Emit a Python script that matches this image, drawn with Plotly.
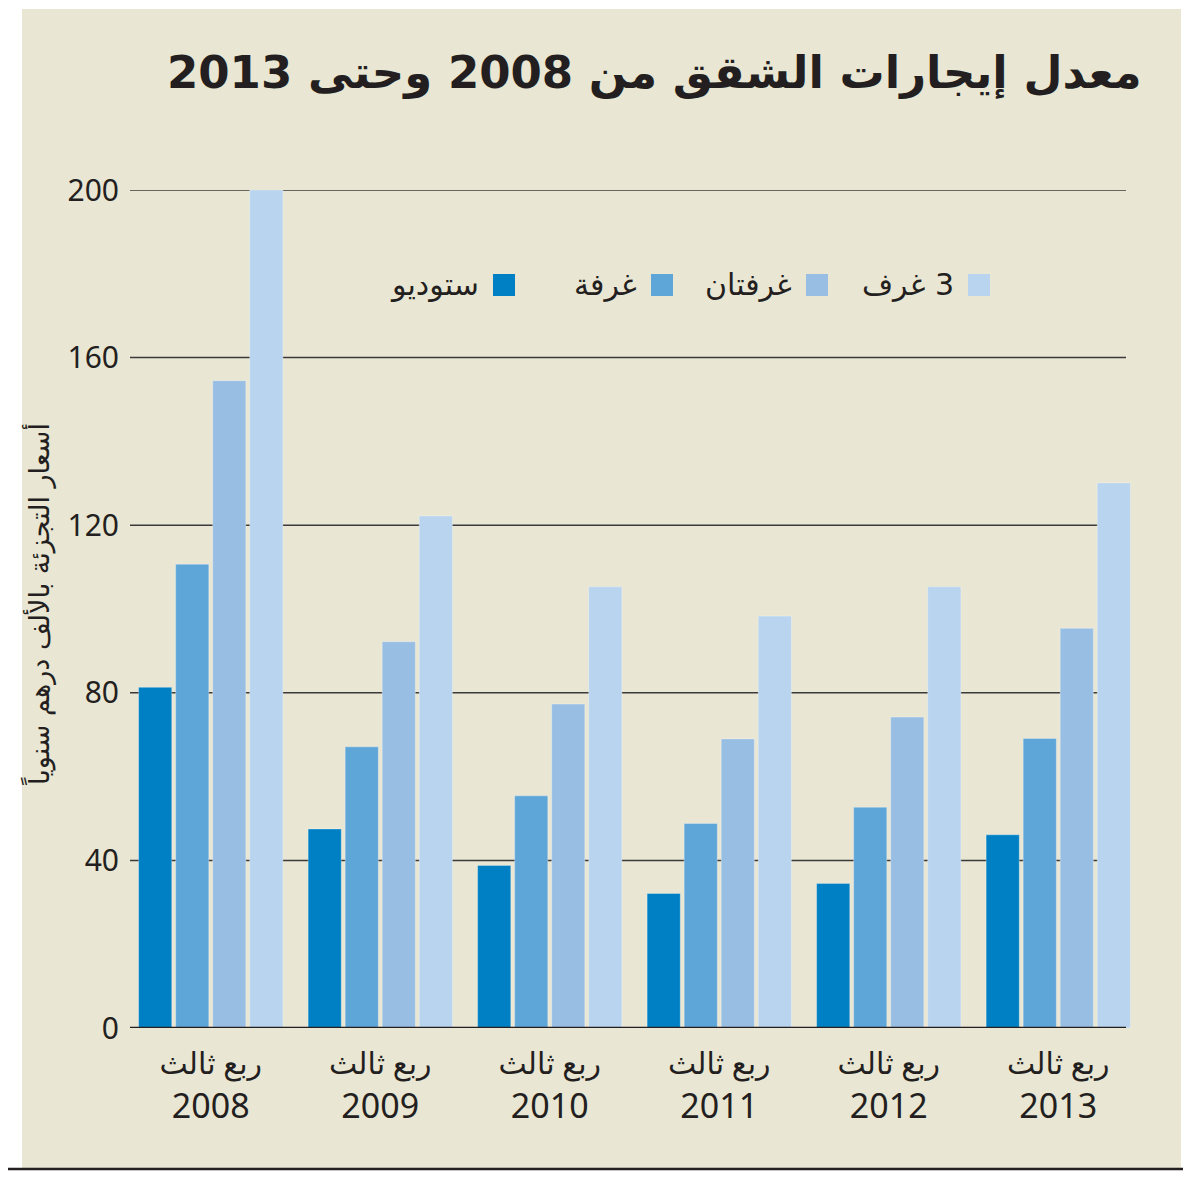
import plotly.graph_objects as go

# data (thousand AED per year, Q3 of each year)
years = ['2008', '2009', '2010', '2011', '2012', '2013']
quarter_label = 'ربع ثالث'
series_names = ['ستوديو', 'غرفة', 'غرفتان', '\u200f3 غرف']
studio = [81.3, 47.5, 38.8, 32.1, 34.5, 46.1]
one_room = [110.7, 67.1, 55.4, 48.8, 52.7, 69.1]
two_rooms = [154.5, 92.2, 77.3, 69.0, 74.2, 95.4]
three_rooms = [200, 122.2, 105.3, 98.3, 105.3, 130.1]
y_ticks = [0, 40, 80, 120, 160, 200]

title_text = '\u200fمعدل إيجارات الشقق من 2008 وحتى 2013'
y_title = 'أسعار التجزئة بالألف درهم سنوياً'

colors = ['#0080c4', '#5fa6d8', '#98bfe3', '#b8d4ee']
ink = '#231f20'
beige = '#e9e6d3'
font_fam = 'Noto Sans, DejaVu Sans, sans-serif'
ar_fam = 'DejaVu Sans, Noto Sans, sans-serif'

# the page puts the figure 8px in from the corner, so screen pixels are shifted
OFF = 8
# plot area in screen pixels
PL, PR, PT, PB = 126, 1143, 190, 1028
W, H = PR - PL, PB - PT

def fx(px):
    return (px - PL) / W

def fy(py):
    return (PB - py) / H

fig = go.Figure()
for name, vals, col in zip(series_names, [studio, one_room, two_rooms, three_rooms], colors):
    fig.add_trace(go.Bar(x=years, y=vals, name=name, marker_color=col,
                         marker_line=dict(width=1, color='rgba(255,255,255,0.3)'),
                         showlegend=False))

shapes = []
# beige panel
shapes.append(dict(type='rect', xref='paper', yref='paper', x0=fx(22), x1=fx(1181), y0=fy(1168), y1=fy(9),
                   fillcolor=beige, line_width=0, layer='below'))
# grid lines
for v in y_ticks[1:]:
    shapes.append(dict(type='line', xref='paper', yref='y', x0=fx(130), x1=fx(1126), y0=v, y1=v,
                       line=dict(color='#3a3a3a', width=1.5), layer='below'))
# baseline
shapes.append(dict(type='line', xref='paper', yref='y', x0=fx(130), x1=fx(1126), y0=0, y1=0,
                   line=dict(color=ink, width=2.5), layer='above'))
# bottom rule
shapes.append(dict(type='line', xref='paper', yref='paper', x0=fx(0), x1=fx(1191), y0=fy(1169), y1=fy(1169),
                   line=dict(color=ink, width=2.5)))

# hand-made legend, symbol on the right of the text
legend_sq = [493, 651, 806, 968]
annotations = []
for name, col, sx in zip(series_names, colors, legend_sq):
    shapes.append(dict(type='rect', xref='paper', yref='paper', x0=fx(sx), x1=fx(sx + 22),
                       y0=fy(296), y1=fy(274), fillcolor=col, line_width=0))
    annotations.append(dict(text=name, xref='paper', yref='paper', x=fx(sx - 12), y=fy(284),
                            xanchor='right', yanchor='middle', showarrow=False,
                            font=dict(family=ar_fam, size=30, color=ink)))

annotations.append(dict(text='<b>' + title_text + '</b>', xref='paper', yref='paper', x=fx(1144), y=fy(72),
                        xanchor='right', yanchor='middle', showarrow=False,
                        font=dict(family=ar_fam, size=45, color=ink)))
annotations.append(dict(text=y_title, xref='paper', yref='paper', x=fx(38), y=fy(605),
                        xanchor='center', yanchor='middle', textangle=-90, showarrow=False,
                        font=dict(family=ar_fam, size=27, color=ink)))

fig.update_layout(
    width=1191, height=1185,
    margin=dict(l=PL - OFF, r=1191 - PR + OFF, t=PT - OFF, b=1185 - PB + OFF),
    paper_bgcolor='white', plot_bgcolor='rgba(0,0,0,0)',
    barmode='group', bargap=0.126, bargroupgap=0.105,
    shapes=shapes, annotations=annotations,
    xaxis=dict(tickvals=years,
               ticktext=["<span style='font-size:30px'>" + quarter_label + '</span><br>' + y for y in years],
               tickfont=dict(family=font_fam, size=34, color=ink), showgrid=False, zeroline=False,
               showline=False, ticks='', ticklabelstandoff=11, range=[-0.5, 5.5]),
    yaxis=dict(range=[0, 200], tickvals=y_ticks, tickfont=dict(family=font_fam, size=30, color=ink),
               showgrid=False, zeroline=False, showline=False, ticks='', ticklabelstandoff=6),
)

fig.write_html("out.html")
